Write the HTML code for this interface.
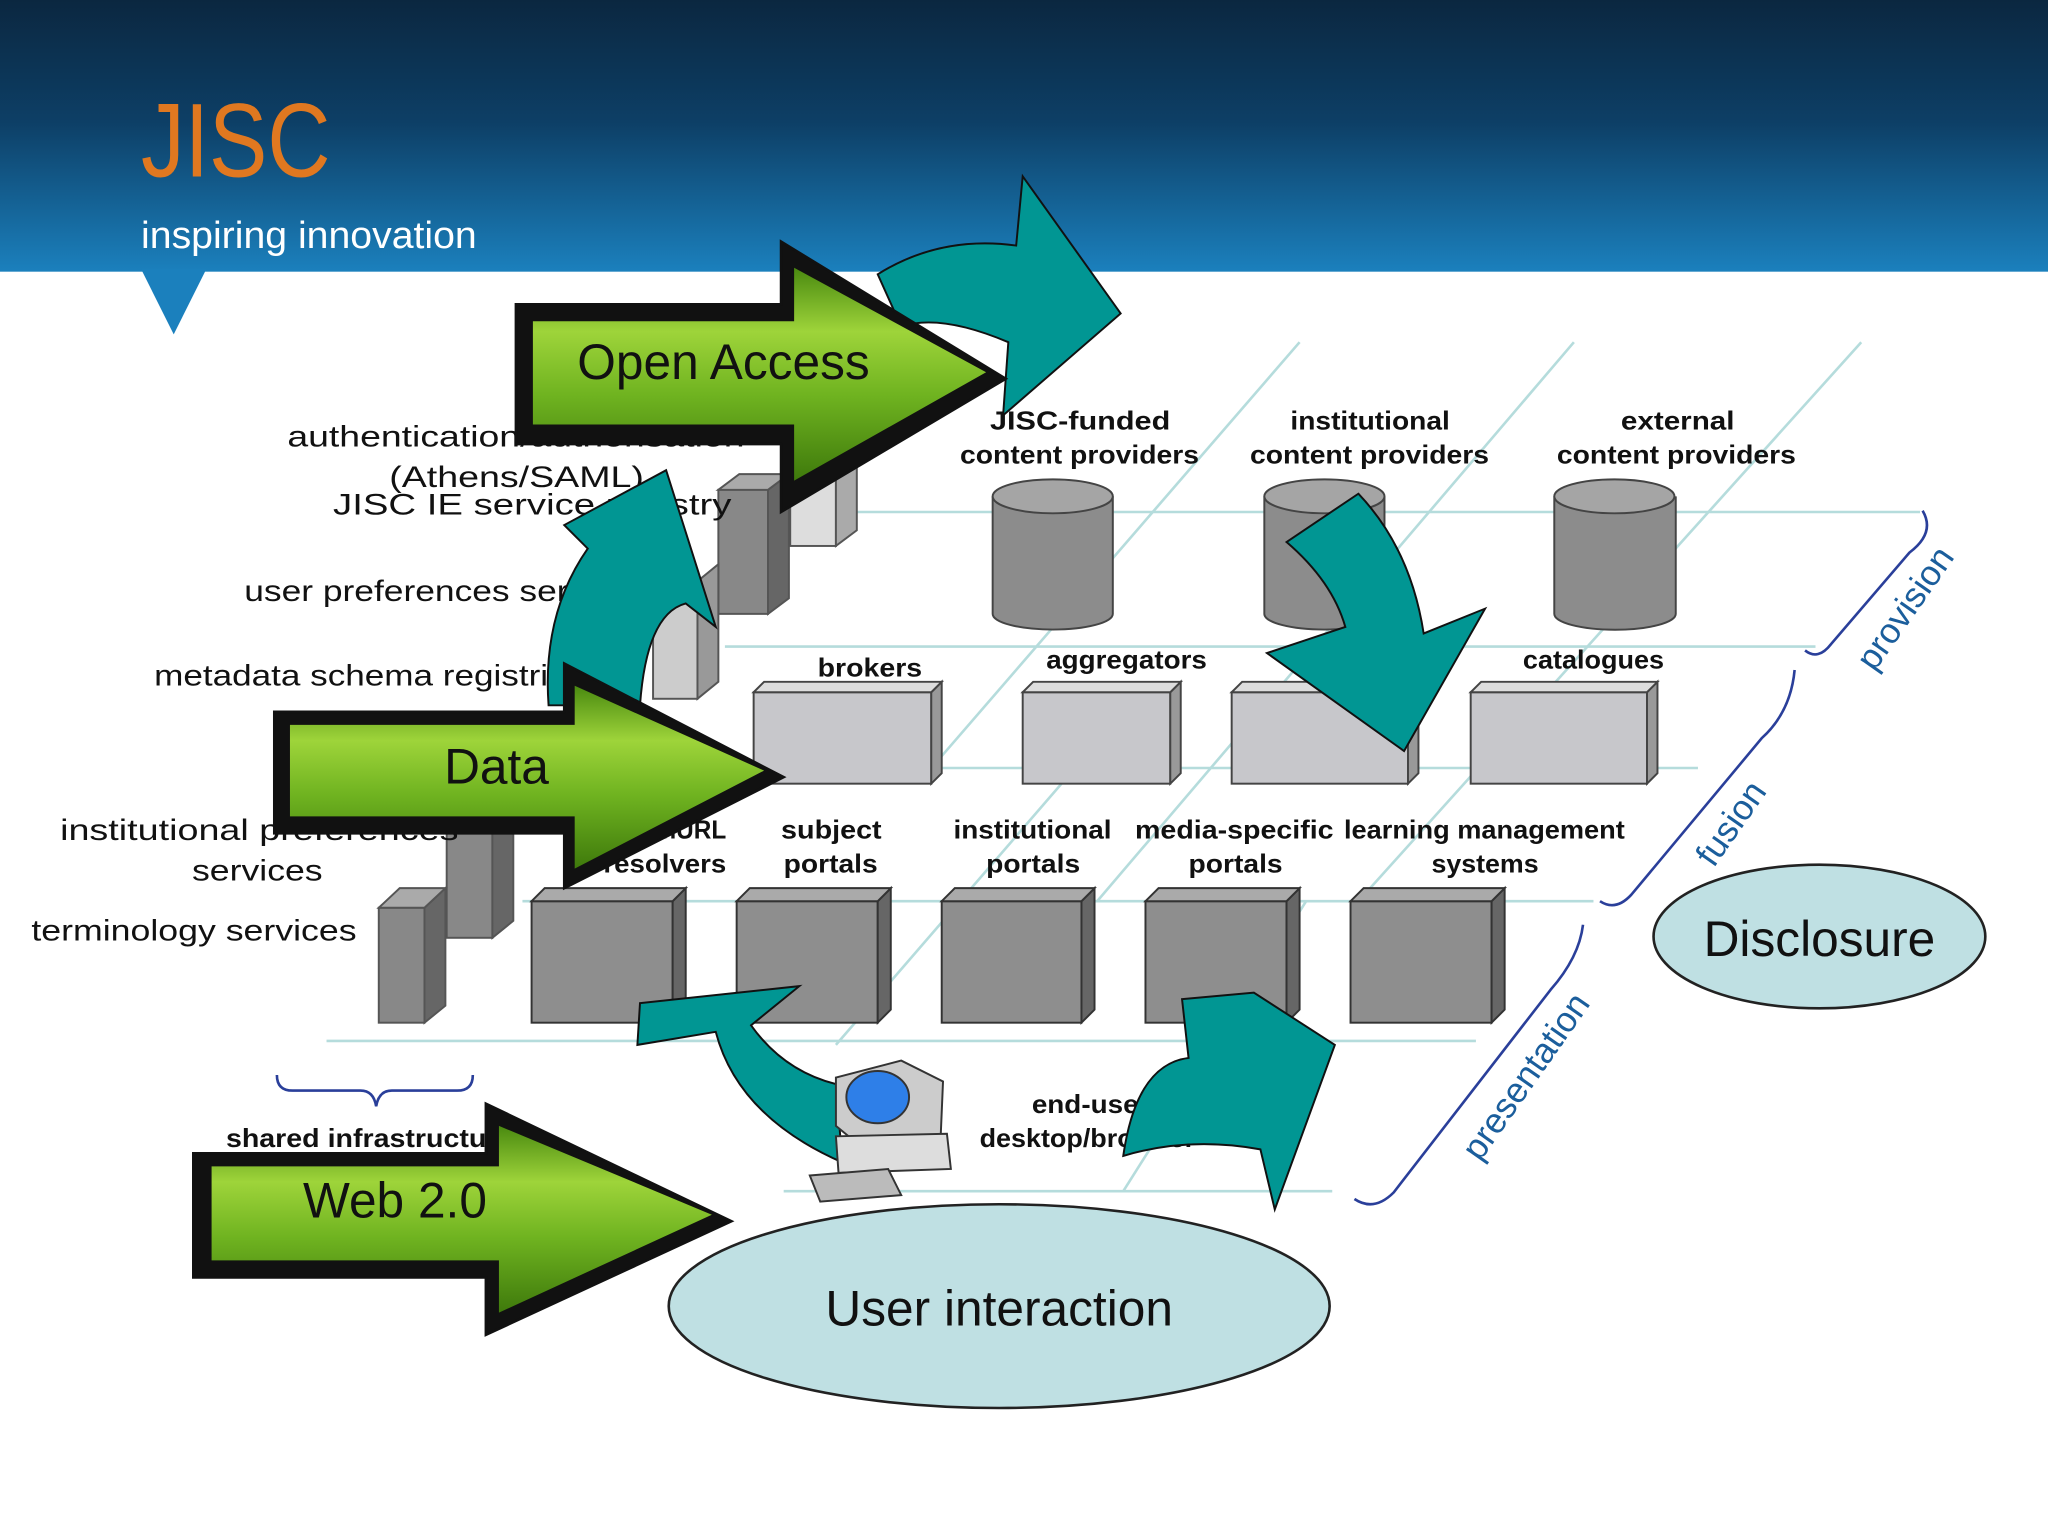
<!DOCTYPE html>
<html><head><meta charset="utf-8"><style>
html,body{margin:0;padding:0;background:#fff;}
svg{display:block}
text{font-family:"Liberation Sans",sans-serif;}
.l{font-size:23px;fill:#111;}
.b{font-size:20px;fill:#111;font-weight:bold;}
</style></head><body>
<svg width="2048" height="1536" viewBox="0 0 1568 1176" preserveAspectRatio="none" xmlns="http://www.w3.org/2000/svg">
<defs>
<linearGradient id="hd" x1="0" y1="0" x2="0" y2="1">
<stop offset="0" stop-color="#0b2740"/><stop offset="0.45" stop-color="#0d3f66"/><stop offset="1" stop-color="#1b80bd"/></linearGradient>
<linearGradient id="gr" x1="0" y1="0" x2="0" y2="1">
<stop offset="0" stop-color="#4a8a10"/><stop offset="0.3" stop-color="#9ed43a"/><stop offset="0.6" stop-color="#6fb320"/><stop offset="1" stop-color="#3f7a0c"/></linearGradient>
</defs>
<rect x="0" y="0" width="1568" height="208" fill="url(#hd)"/>
<polygon points="108,206 158,206 133,256" fill="#1b80bd"/>
<text x="108" y="135" font-size="80" fill="#e07820" textLength="145" lengthAdjust="spacingAndGlyphs">JISC</text>
<text x="108" y="190" font-size="29" fill="#fff" textLength="257" lengthAdjust="spacingAndGlyphs">inspiring innovation</text>

<g stroke="#b5dcdc" stroke-width="2" fill="none">
<line x1="560" y1="392" x2="1470" y2="392"/>
<line x1="555" y1="495" x2="1390" y2="495"/>
<line x1="530" y1="588" x2="1300" y2="588"/>
<line x1="400" y1="690" x2="1220" y2="690"/>
<line x1="250" y1="797" x2="1130" y2="797"/>
<line x1="600" y1="912" x2="1020" y2="912"/>
<line x1="995" y1="262" x2="720" y2="580"/>
<line x1="1205" y1="262" x2="840" y2="690"/>
<line x1="1425" y1="262" x2="1040" y2="690"/>
<line x1="830" y1="580" x2="640" y2="800"/>
<line x1="1000" y1="690" x2="860" y2="912"/>
</g>

<g stroke="#555" stroke-width="1.5">
<rect x="605" y="350" width="35" height="68" fill="#ddd"/><polygon points="640,350 656,338 656,406 640,418" fill="#aaa"/>
<rect x="550" y="375" width="38" height="95" fill="#888"/><polygon points="588,375 604,363 604,458 588,470" fill="#666"/><polygon points="550,375 566,363 604,363 588,375" fill="#aaa"/>
<rect x="500" y="445" width="34" height="90" fill="#ccc"/><polygon points="534,445 550,432 550,522 534,535" fill="#999"/>
<rect x="342" y="630" width="35" height="88" fill="#888"/><polygon points="377,630 393,617 393,705 377,718" fill="#666"/>
<rect x="290" y="695" width="35" height="88" fill="#888"/><polygon points="325,695 341,680 341,770 325,783" fill="#666"/><polygon points="290,695 306,680 341,680 325,695" fill="#aaa"/>
</g>

<g stroke="#444" stroke-width="1.5" fill="#8c8c8c">
<path d="M760,380 v90 a46,12 0 0 0 92,0 v-90"/><ellipse cx="806" cy="380" rx="46" ry="13" fill="#a5a5a5"/>
<path d="M968,380 v90 a46,12 0 0 0 92,0 v-90"/><ellipse cx="1014" cy="380" rx="46" ry="13" fill="#a5a5a5"/>
<path d="M1190,380 v90 a46,12 0 0 0 93,0 v-90"/><ellipse cx="1236" cy="380" rx="46" ry="13" fill="#a5a5a5"/>
</g>

<g stroke="#444" stroke-width="1.5">
<rect x="577" y="530" width="136" height="70" fill="#c7c7cb"/><polygon points="713,530 721,522 721,592 713,600" fill="#999"/><polygon points="577,530 585,522 721,522 713,530" fill="#ddd"/>
<rect x="783" y="530" width="113" height="70" fill="#c7c7cb"/><polygon points="896,530 904,522 904,592 896,600" fill="#999"/><polygon points="783,530 791,522 904,522 896,530" fill="#ddd"/>
<rect x="943" y="530" width="135" height="70" fill="#c7c7cb"/><polygon points="1078,530 1086,522 1086,592 1078,600" fill="#999"/><polygon points="943,530 951,522 1086,522 1078,530" fill="#ddd"/>
<rect x="1126" y="530" width="135" height="70" fill="#c7c7cb"/><polygon points="1261,530 1269,522 1269,592 1261,600" fill="#999"/><polygon points="1126,530 1134,522 1269,522 1261,530" fill="#ddd"/>
</g>
<g stroke="#333" stroke-width="1.5">
<rect x="407" y="690" width="108" height="93" fill="#8e8e8e"/><polygon points="515,690 525,680 525,773 515,783" fill="#666"/><polygon points="407,690 417,680 525,680 515,690" fill="#aaa"/>
<rect x="564" y="690" width="108" height="93" fill="#8e8e8e"/><polygon points="672,690 682,680 682,773 672,783" fill="#666"/><polygon points="564,690 574,680 682,680 672,690" fill="#aaa"/>
<rect x="721" y="690" width="107" height="93" fill="#8e8e8e"/><polygon points="828,690 838,680 838,773 828,783" fill="#666"/><polygon points="721,690 731,680 838,680 828,690" fill="#aaa"/>
<rect x="877" y="690" width="108" height="93" fill="#8e8e8e"/><polygon points="985,690 995,680 995,773 985,783" fill="#666"/><polygon points="877,690 887,680 995,680 985,690" fill="#aaa"/>
<rect x="1034" y="690" width="108" height="93" fill="#8e8e8e"/><polygon points="1142,690 1152,680 1152,773 1142,783" fill="#666"/><polygon points="1034,690 1044,680 1152,680 1142,690" fill="#aaa"/>
</g>

<text class="l" x="220" y="342" textLength="350" lengthAdjust="spacingAndGlyphs">authentication/authorisation</text>
<text class="l" x="298" y="373" textLength="195" lengthAdjust="spacingAndGlyphs">(Athens/SAML)</text>
<text class="l" x="255" y="394" textLength="305" lengthAdjust="spacingAndGlyphs">JISC IE service registry</text>
<text class="l" x="187" y="460" textLength="310" lengthAdjust="spacingAndGlyphs">user preferences services</text>
<text class="l" x="118" y="525" textLength="330" lengthAdjust="spacingAndGlyphs">metadata schema registries</text>
<text class="l" x="46" y="643" textLength="305" lengthAdjust="spacingAndGlyphs">institutional preferences</text>
<text class="l" x="147" y="674" textLength="100" lengthAdjust="spacingAndGlyphs">services</text>
<text class="l" x="24" y="720" textLength="249" lengthAdjust="spacingAndGlyphs">terminology services</text>
<text class="b" x="758" y="329" textLength="138" lengthAdjust="spacingAndGlyphs">JISC-funded</text><text class="b" x="735" y="355" textLength="183" lengthAdjust="spacingAndGlyphs">content providers</text>
<text class="b" x="988" y="329" textLength="122" lengthAdjust="spacingAndGlyphs">institutional</text><text class="b" x="957" y="355" textLength="183" lengthAdjust="spacingAndGlyphs">content providers</text>
<text class="b" x="1241" y="329" textLength="87" lengthAdjust="spacingAndGlyphs">external</text><text class="b" x="1192" y="355" textLength="183" lengthAdjust="spacingAndGlyphs">content providers</text>
<text class="b" x="626" y="518" textLength="80" lengthAdjust="spacingAndGlyphs">brokers</text>
<text class="b" x="801" y="512" textLength="123" lengthAdjust="spacingAndGlyphs">aggregators</text>
<text class="b" x="1166" y="512" textLength="108" lengthAdjust="spacingAndGlyphs">catalogues</text>
<text class="b" x="470" y="642" textLength="86" lengthAdjust="spacingAndGlyphs">OpenURL</text><text class="b" x="462" y="668" textLength="94" lengthAdjust="spacingAndGlyphs">resolvers</text>
<text class="b" x="598" y="642" textLength="77" lengthAdjust="spacingAndGlyphs">subject</text><text class="b" x="600" y="668" textLength="72" lengthAdjust="spacingAndGlyphs">portals</text>
<text class="b" x="730" y="642" textLength="121" lengthAdjust="spacingAndGlyphs">institutional</text><text class="b" x="755" y="668" textLength="72" lengthAdjust="spacingAndGlyphs">portals</text>
<text class="b" x="869" y="642" textLength="152" lengthAdjust="spacingAndGlyphs">media-specific</text><text class="b" x="910" y="668" textLength="72" lengthAdjust="spacingAndGlyphs">portals</text>
<text class="b" x="1029" y="642" textLength="215" lengthAdjust="spacingAndGlyphs">learning management</text><text class="b" x="1096" y="668" textLength="82" lengthAdjust="spacingAndGlyphs">systems</text>
<text class="b" x="790" y="852" textLength="90" lengthAdjust="spacingAndGlyphs">end-user</text><text class="b" x="750" y="878" textLength="165" lengthAdjust="spacingAndGlyphs">desktop/browser</text>
<text class="b" x="173" y="878" textLength="220" lengthAdjust="spacingAndGlyphs">shared infrastructure</text>

<g stroke="#2a3f9a" stroke-width="2" fill="none">
<path d="M212,823 q0,12 12,12 h52 q10,0 12,12 q2,-12 12,-12 h50 q12,0 12,-12"/>
<path d="M1382,498 q10,8 20,-5 l60,-70 q20,-15 10,-32"/>
<path d="M1225,690 q12,8 24,-5 l100,-120 q22,-20 25,-52"/>
<path d="M1037,918 q15,10 30,-5 l120,-155 q22,-25 25,-50"/>
</g>
<g fill="#1b5e9c" font-size="27">
<text transform="translate(1435,515) rotate(-55)">provision</text>
<text transform="translate(1312,665) rotate(-55)">fusion</text>
<text transform="translate(1133,890) rotate(-55)">presentation</text>
</g>

<g fill="#019693" stroke="#111" stroke-width="1.5">
<path d="M672,210 Q720,180 778,188 L783,135 L858,240 L768,318 L772,262 Q720,240 690,250 Z"/>
<path d="M985,415 L1040,378 Q1080,420 1090,485 L1137,466 L1075,575 L970,500 L1030,480 Q1020,445 985,415 Z"/>
<path d="M420,540 Q415,470 450,420 L432,402 L510,360 L548,480 L525,462 Q495,470 490,540 Z"/>
<path d="M645,890 Q565,855 548,790 L488,800 L490,768 L612,755 L575,785 Q600,820 640,830 Z"/>
<path d="M860,885 Q870,815 910,810 L905,765 L960,760 L1022,800 L976,926 L965,880 Q910,870 860,885 Z"/>
</g>

<g stroke="#111" stroke-width="2">
<polygon points="395,233 598,233 598,185 770,290 598,392 598,340 395,340" fill="#111"/>
<polygon points="408,246 608,246 608,205 755,285 608,368 608,325 408,325" fill="url(#gr)" stroke="none"/>
<polygon points="210,545 432,545 432,508 600,595 432,680 432,638 210,638" fill="#111"/>
<polygon points="222,555 440,555 440,525 585,590 440,665 440,625 222,625" fill="url(#gr)" stroke="none"/>
<polygon points="148,883 372,883 372,845 560,935 372,1022 372,978 148,978" fill="#111"/>
<polygon points="162,893 382,893 382,862 545,930 382,1005 382,965 162,965" fill="url(#gr)" stroke="none"/>
</g>
<text x="442" y="290" font-size="38" fill="#111">Open Access</text>
<text x="340" y="600" font-size="38" fill="#111">Data</text>
<text x="232" y="932" font-size="38" fill="#111">Web 2.0</text>

<g stroke="#333" stroke-width="1.5">
<polygon points="640,825 690,812 722,828 720,875 668,885 640,862" fill="#ccc"/>
<ellipse cx="672" cy="840" rx="24" ry="20" fill="#2e7fe8"/>
<polygon points="640,870 725,868 728,895 642,898" fill="#ddd"/>
<polygon points="620,900 680,895 690,915 628,920" fill="#bbb"/>
</g>

<ellipse cx="1393" cy="717" rx="127" ry="55" fill="#bfe0e3" stroke="#222" stroke-width="2"/>
<text x="1393" y="732" font-size="38" text-anchor="middle" fill="#111">Disclosure</text>
<ellipse cx="765" cy="1000" rx="253" ry="78" fill="#bfe0e3" stroke="#222" stroke-width="2"/>
<text x="765" y="1015" font-size="38" text-anchor="middle" fill="#111">User interaction</text>
</svg>
</body></html>
